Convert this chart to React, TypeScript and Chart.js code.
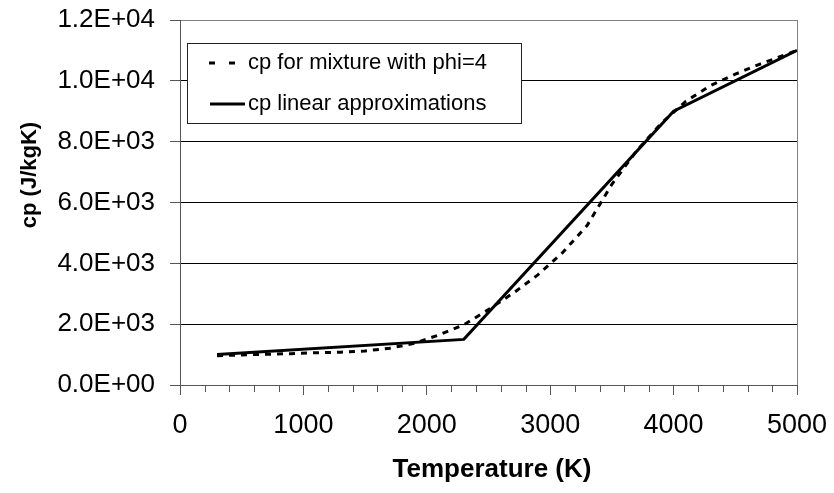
import React, { useEffect, useRef } from "react";
import { Chart, registerables } from "chart.js";

Chart.register(...registerables);

// Temperature (K) samples for the mixture curve
const mixtureTemps = [300, 500, 700, 900, 1100, 1300, 1500, 1700, 1900, 2100, 2300, 2500, 2700, 2900, 3100, 3300, 3500, 3700, 3900, 4100, 4300, 4500, 4700, 4900, 5000];
// cp (J/kgK) for mixture with phi=4
const mixtureCp = [960, 990, 1010, 1030, 1060, 1080, 1120, 1210, 1370, 1650, 1980, 2480, 3020, 3620, 4350, 5250, 6600, 7700, 8600, 9330, 9850, 10220, 10550, 10850, 11000];

// Linear approximation break points
const linearTemps = [300, 2300, 4000, 5000];
const linearCp = [1000, 1500, 9000, 11000];

const seriesLabels = ["cp for mixture with phi=4", "cp linear approximations"];
const xTitle = "Temperature (K)";
const yTitle = "cp (J/kgK)";

const FONT = "'Liberation Sans', Arial, sans-serif";

function fmtExp(v: number): string {
  const [m, e] = v.toExponential(1).split("e");
  const sign = e[0] === "-" ? "-" : "+";
  const digits = e.replace(/^[+-]/, "").padStart(2, "0");
  return `${m}E${sign}${digits}`;
}

function zeroPad(s: any) {
  s.paddingTop = 0;
  s.paddingBottom = 0;
  s.paddingLeft = 0;
  s.paddingRight = 0;
}

const decorPlugin = {
  id: "decor",
  afterDraw(chart: any) {
    const { ctx, chartArea, scales } = chart;
    const xs = scales.x;
    ctx.save();
    // minor ticks on x axis
    ctx.strokeStyle = "#555";
    ctx.lineWidth = 1;
    for (let v = 0; v <= 5000; v += 200) {
      if (v % 1000 === 0) continue;
      const px = Math.round(xs.getPixelForValue(v)) + 0.5;
      ctx.beginPath();
      ctx.moveTo(px, chartArea.bottom);
      ctx.lineTo(px, chartArea.bottom + 7);
      ctx.stroke();
    }
    // right border of plot area
    ctx.strokeStyle = "#808080";
    ctx.beginPath();
    ctx.moveTo(Math.round(chartArea.right) + 0.5, chartArea.top);
    ctx.lineTo(Math.round(chartArea.right) + 0.5, chartArea.bottom);
    ctx.stroke();

    // legend
    const lx = 187.5, ly = 43.5, lw = 334, lh = 80;
    ctx.fillStyle = "#fff";
    ctx.fillRect(lx, ly, lw, lh);
    ctx.strokeStyle = "#222";
    ctx.lineWidth = 1;
    ctx.strokeRect(lx, ly, lw, lh);
    ctx.strokeStyle = "#000";
    ctx.lineWidth = 3;
    ctx.setLineDash([6, 14]);
    ctx.beginPath();
    ctx.moveTo(209, 63);
    ctx.lineTo(236, 63);
    ctx.stroke();
    ctx.setLineDash([]);
    ctx.beginPath();
    ctx.moveTo(210, 104);
    ctx.lineTo(245, 104);
    ctx.stroke();
    ctx.fillStyle = "#000";
    ctx.font = `22px ${FONT}`;
    ctx.textBaseline = "middle";
    ctx.textAlign = "left";
    ctx.fillText(seriesLabels[0], 248, 63);
    ctx.fillText(seriesLabels[1], 248, 104);

    // axis titles
    ctx.font = `bold 26px ${FONT}`;
    ctx.textAlign = "center";
    ctx.fillText(xTitle, 492, 470);
    ctx.save();
    ctx.translate(30, 175);
    ctx.rotate(-Math.PI / 2);
    ctx.font = `bold 22px ${FONT}`;
    ctx.fillText(yTitle, 0, 0);
    ctx.restore();
    ctx.restore();
  },
};

export default function App() {
  const ref = useRef<HTMLCanvasElement>(null);
  useEffect(() => {
    document.body.style.margin = "0";
    const mixtureData = mixtureTemps.map((t, i) => ({ x: t, y: mixtureCp[i] }));
    const linearData = linearTemps.map((t, i) => ({ x: t, y: linearCp[i] }));
    const chart = new Chart(ref.current!, {
      type: "line",
      data: {
        datasets: [
          {
            label: seriesLabels[0],
            data: mixtureData,
            borderColor: "#000",
            borderWidth: 3,
            borderDash: [6, 6],
            pointRadius: 0,
            tension: 0,
            fill: false,
          },
          {
            label: seriesLabels[1],
            data: linearData,
            borderColor: "#000",
            borderWidth: 3,
            pointRadius: 0,
            tension: 0,
            fill: false,
          },
        ],
      },
      options: {
        animation: false,
        responsive: false,
        devicePixelRatio: 1,
        layout: { padding: { top: 20, right: 37, left: 0, bottom: 0 } },
        plugins: { legend: { display: false }, tooltip: { enabled: false } },
        scales: {
          x: {
            type: "linear",
            min: 0,
            max: 5000,
            afterFit: (s: any) => {
              s.height = 108;
              zeroPad(s);
            },
            ticks: {
              stepSize: 1000,
              autoSkip: false,
              maxRotation: 0,
              padding: 14,
              color: "#000",
              font: { family: FONT, size: 27 },
              callback: (v: any) => String(v),
            },
            grid: { drawOnChartArea: false, drawTicks: true, tickLength: 10, tickColor: "#555" },
            border: { color: "#555", width: 1 },
          },
          y: {
            min: 0,
            max: 12000,
            afterFit: (s: any) => {
              s.width = 180;
              zeroPad(s);
            },
            ticks: {
              stepSize: 2000,
              padding: 15,
              color: "#000",
              font: { family: FONT, size: 26 },
              callback: (v: any) => fmtExp(Number(v)),
            },
            grid: {
              color: (c: any) => (c.tick && c.tick.value === 12000 ? "#808080" : "#000"),
              lineWidth: 1,
              drawTicks: true,
              tickLength: 10,
              tickColor: "#555",
            },
            border: { color: "#555", width: 1 },
          },
        },
      },
      plugins: [decorPlugin],
    });
    return () => chart.destroy();
  }, []);
  return (
    <div style={{ width: 834, height: 493 }}>
      <canvas ref={ref} width={834} height={493} style={{ display: "block" }} />
    </div>
  );
}
